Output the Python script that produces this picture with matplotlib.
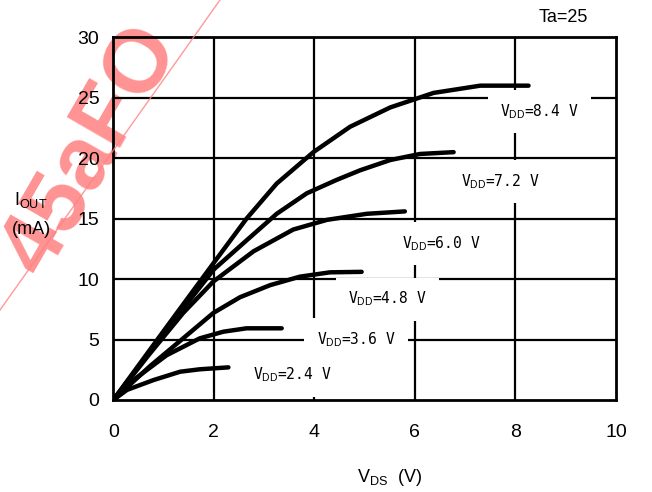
import matplotlib
matplotlib.use("Agg")
import matplotlib.pyplot as plt
from matplotlib.lines import Line2D

plt.rcParams['font.family'] = ['Liberation Sans', 'DejaVu Sans']
plt.rcParams['mathtext.fontset'] = 'custom'
plt.rcParams['mathtext.rm'] = 'Liberation Sans'
plt.rcParams['mathtext.it'] = 'Liberation Sans'

# ---- data ----
vdd_labels = ["2.4", "3.6", "4.8", "6.0", "7.2", "8.4"]

x_24 = [0, 0.27, 0.80, 1.33, 1.72, 2.29]
y_24 = [0, 0.83, 1.65, 2.34, 2.54, 2.70]

x_36 = [0, 0.40, 1.06, 1.72, 2.19, 2.65, 3.35]
y_36 = [0, 1.65, 3.70, 5.10, 5.65, 5.93, 5.93]

x_48 = [0, 0.73, 1.39, 1.99, 2.52, 3.12, 3.71, 4.31, 4.94]
y_48 = [0, 2.80, 5.10, 7.20, 8.50, 9.50, 10.20, 10.56, 10.60]

x_60 = [0, 0.70, 1.39, 1.99, 2.79, 3.58, 4.25, 5.04, 5.80]
y_60 = [0, 3.70, 7.20, 9.80, 12.30, 14.10, 14.90, 15.40, 15.60]

x_72 = [0, 1.00, 2.00, 2.65, 3.25, 3.85, 4.44, 4.91, 5.51, 6.10, 6.77]
y_72 = [0, 5.50, 10.80, 13.20, 15.40, 17.10, 18.20, 19.00, 19.85, 20.35, 20.50]

x_84 = [0, 1.00, 1.99, 2.65, 3.25, 3.98, 4.71, 5.51, 6.37, 7.30, 8.26]
y_84 = [0, 5.70, 11.30, 15.00, 17.90, 20.50, 22.60, 24.20, 25.40, 26.00, 26.00]

series_x = [x_24, x_36, x_48, x_60, x_72, x_84]
series_y = [y_24, y_36, y_48, y_60, y_72, y_84]

label_x = [2.78, 4.05, 4.67, 5.74, 6.91, 7.70]
label_y = [2.07, 4.96, 8.33, 12.96, 18.06, 23.85]

x_ticks = [0, 2, 4, 6, 8, 10]
y_ticks = [0, 5, 10, 15, 20, 25, 30]

# ---- figure ----
W, H = 652, 492
fig = plt.figure(figsize=(W / 100, H / 100), dpi=100)
ax = fig.add_axes([113.3 / W, 1 - 400 / H, (616 - 113.3) / W, (400 - 37.3) / H])
ax.set_xlim(0, 10)
ax.set_ylim(0, 30)

for xv in x_ticks[1:-1]:
    ax.axvline(xv, color='black', lw=1.6, zorder=1)
for yv in y_ticks[1:-1]:
    ax.axhline(yv, color='black', lw=1.6, zorder=1)

for xs, ys in zip(series_x, series_y):
    ax.plot(xs, ys, color='black', lw=3.2, solid_capstyle='round', zorder=4)

for lab, lx, ly in zip(vdd_labels, label_x, label_y):
    ax.text(lx, ly, "V$_{\\rm DD}$=" + lab + " V", fontsize=10.5,
            family=['DejaVu Sans Mono'], ha='left', va='center', zorder=3,
            bbox=dict(boxstyle='square,pad=0.85', fc='white', ec='none'))

for s in ax.spines.values():
    s.set_linewidth(2.0)
    s.set_zorder(5)

ax.set_xticks(x_ticks)
ax.set_yticks(y_ticks)
ax.tick_params(length=0, labelsize=14)
ax.tick_params(axis='x', pad=17)
ax.tick_params(axis='y', pad=10)

fig.text(563 / W, 1 - 17 / H, "Ta=25", fontsize=13, ha='center', va='center')
fig.text(31 / W, 1 - 200 / H, "I$_{\\rm OUT}$", fontsize=13, ha='center', va='center')
fig.text(31 / W, 1 - 229 / H, "(mA)", fontsize=13, ha='center', va='center')
fig.text(390 / W, 1 - 477 / H, "V$_{\\rm DS}$  (V)", fontsize=13, ha='center', va='center')

# watermark
wm = (1.0, 0.5, 0.5)
fig.add_artist(Line2D([0, 220 / W], [1 - 310 / H, 1.0], color=wm, lw=1.0,
                      alpha=0.8, zorder=0.5))
ax.text(92 / W, 1 - 150 / H, "45aFO", transform=fig.transFigure, fontsize=64,
        fontweight='bold', color=wm, alpha=0.85, rotation=60, ha='center',
        va='center', zorder=0.5, clip_on=False)

fig.savefig("out.png", dpi=100)
